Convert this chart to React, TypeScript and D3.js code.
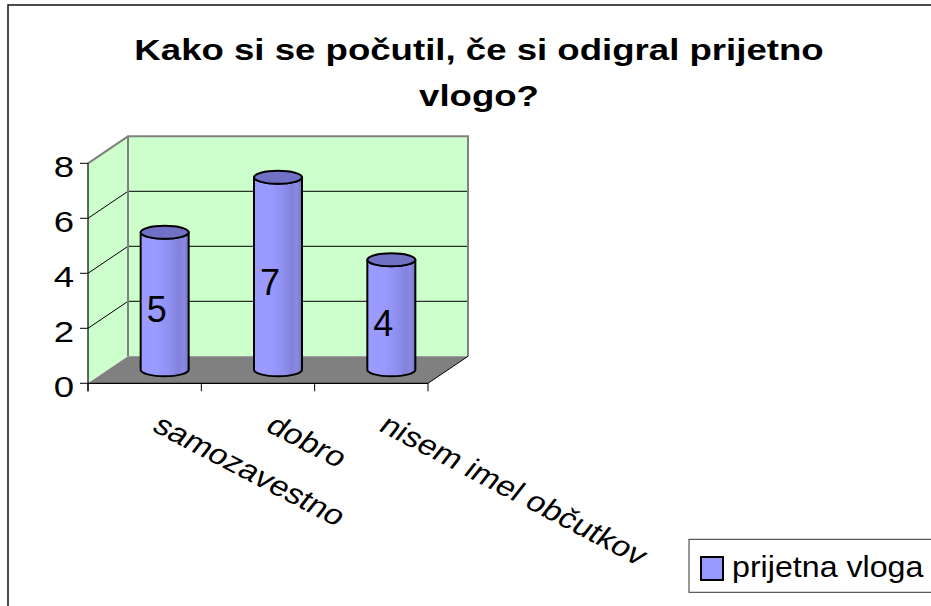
import React from "react";
import * as d3 from "d3";

const titleLines = ["Kako si se počutil, če si odigral prijetno", "vlogo?"];
const categories = ["samozavestno", "dobro", "nisem imel občutkov"];
const values = [5, 7, 4];
const seriesName = "prijetna vloga";
const yTicks = [0, 2, 4, 6, 8];

const W = 931;
const H = 606;
const SX = 1.22;
const FONT = "Arial, 'Liberation Sans', Helvetica, sans-serif";

export default function App() {
  const x0 = 88, x1 = 428;
  const yScale = d3.scaleLinear().domain([0, 8]).range([383.3, 163.3]);
  const xScale = d3.scaleBand<string>().domain(categories).range([x0, x1]).padding(0);
  const ddx = 40, ddy = -27;
  const bw = xScale.bandwidth();
  const rx = 24, ry = 6.5;

  const yB = (v: number) => yScale(v) + ddy;
  const xB0 = x0 + ddx, xB1 = x1 + ddx;

  const floor = [
    [x0, yScale(0)], [x1, yScale(0)], [xB1, yB(0)], [xB0, yB(0)],
  ];
  const side = [
    [x0, yScale(0)], [x0, yScale(8)], [xB0, yB(8)], [xB0, yB(0)],
  ];
  const line = d3.line();

  return (
    <svg width={W} height={H} style={{ position: "absolute", left: 0, top: 0, background: "#fff" }} fontFamily={FONT}>
      <defs>
        <linearGradient id="cyl" x1="0" x2="1" y1="0" y2="0">
          <stop offset="0%" stopColor="#9c9cff" />
          <stop offset="35%" stopColor="#9999ff" />
          <stop offset="60%" stopColor="#9090f0" />
          <stop offset="80%" stopColor="#8282dc" />
          <stop offset="90%" stopColor="#8a8ae0" />
          <stop offset="100%" stopColor="#7373cc" />
        </linearGradient>
      </defs>
      {/* outer frame */}
      <rect x={8} y={5} width={940} height={620} fill="#fff" stroke="#111" strokeWidth={1.5} />

      {/* title */}
      {titleLines.map((t, i) => (
        <text key={i} transform={`translate(479,${60 + i * 46}) scale(${SX},1)`} textAnchor="middle"
          fontSize={30} fontWeight="bold" fill="#000">{t}</text>
      ))}

      {/* back wall */}
      <rect x={xB0} y={yB(8)} width={xB1 - xB0} height={yB(0) - yB(8)} fill="#ccffcc" />
      {/* side wall */}
      <path d={line(side as any) + "Z"} fill="#ccffcc" />
      {/* floor */}
      <path d={line(floor as any) + "Z"} fill="#808080" />

      {/* gridlines */}
      {yTicks.filter(v => v > 0 && v < 8).map(v => (
        <g key={v}>
          <line x1={xB0} x2={xB1} y1={yB(v)} y2={yB(v)} stroke="#000" strokeWidth={1} />
          <line x1={x0} x2={xB0} y1={yScale(v)} y2={yB(v)} stroke="#000" strokeWidth={1} />
        </g>
      ))}
      {/* wall borders */}
      <path d={`M${x0},${yScale(8)}L${xB0},${yB(8)}L${xB1},${yB(8)}L${xB1},${yB(0)}`} fill="none" stroke="#808080" strokeWidth={2} />
      <line x1={xB0} x2={xB0} y1={yB(8)} y2={yB(0)} stroke="#808080" strokeWidth={2} />
      <line x1={x1} x2={xB1} y1={yScale(0)} y2={yB(0)} stroke="#000" strokeWidth={1} />

      {/* axes */}
      <line x1={x0} x2={x0} y1={yScale(8)} y2={yScale(0) + 8} stroke="#000" strokeWidth={1.2} />
      <line x1={x0} x2={x1} y1={yScale(0)} y2={yScale(0)} stroke="#000" strokeWidth={1.2} />
      {yTicks.map(v => (
        <g key={v}>
          <line x1={80} x2={x0} y1={yScale(v)} y2={yScale(v)} stroke="#000" strokeWidth={1} />
          <text transform={`translate(74,${yScale(v) + 13.4}) scale(${SX},1)`} textAnchor="end" fontSize={30} fill="#000">{v}</text>
        </g>
      ))}
      {[...categories.map(c => xScale(c) as number), x1].map((xv, i) => (
        <line key={i} x1={xv} x2={xv} y1={yScale(0)} y2={yScale(0) + 8} stroke="#000" strokeWidth={1} />
      ))}

      {/* bars */}
      {categories.map((c, i) => {
        const cx = (xScale(c) as number) + bw / 2 + ddx / 2;
        const yb = yScale(0) + ddy / 2;
        const yt = yScale(values[i]) + ddy / 2;
        const l = cx - rx, r = cx + rx;
        const body = `M${l},${yt}L${l},${yb}A${rx},${ry} 0 0 0 ${r},${yb}L${r},${yt}A${rx},${ry} 0 0 1 ${l},${yt}Z`;
        return (
          <g key={c}>
            <path d={body} fill="url(#cyl)" stroke="#000" strokeWidth={2} strokeLinejoin="round" />
            <ellipse cx={cx} cy={yt} rx={rx} ry={ry} fill="#7070c4" stroke="#000" strokeWidth={2} />
            <text x={cx - 8} y={(yt + yb) / 2 + 21} textAnchor="middle" fontSize={36} fill="#000">{values[i]}</text>
          </g>
        );
      })}

      {/* category labels */}
      {categories.map(c => {
        const px = (xScale(c) as number) + bw / 2 + 6;
        return (
          <text key={c} transform={`translate(${px},430) scale(${SX},1) rotate(32.5)`} fontSize={28} fill="#000">{c}</text>
        );
      })}

      {/* legend */}
      <rect x={689} y={539.3} width={260} height={53} fill="#fff" stroke="#333" strokeWidth={1} />
      <rect x={701} y={557} width={22} height={23} fill="#9999ff" stroke="#000" strokeWidth={2} />
      <text transform={`translate(732,577) scale(1.11,1)`} fontSize={29} fill="#000">{seriesName}</text>
    </svg>
  );
}
